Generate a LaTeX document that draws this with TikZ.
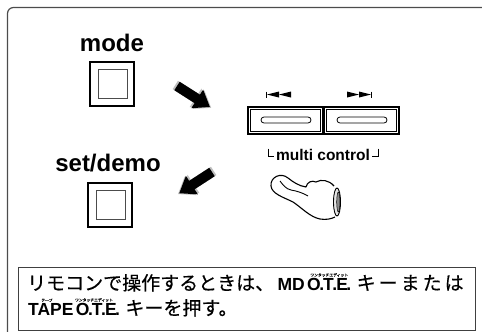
\documentclass[tikz,border=0pt]{standalone}
\usepackage{fontspec}
\setmainfont{Liberation Sans}
\newfontfamily\jpfont{Noto Sans CJK JP}[FakeBold=0.4]
\usetikzlibrary{calc,positioning}
\def\squarekey(#1,#2){\draw[line width=1.8pt] (#1,#2) rectangle ++(44,44);
	\draw[line width=0.7pt, color=black!70] (#1+8,#2+7) rectangle ++(29,29);}
\def\longkey(#1,#2){\draw[line width=1.6pt] (#1,#2) rectangle ++(75,27);
	\draw[line width=0.6pt] (#1+2.5,#2+2.5) rectangle ++(70,22);
	\draw[line width=0.8pt, rounded corners=3pt] (#1+13,#2+10) rectangle ++(50,6);}
\def\blockarrow(#1,#2)(#3){%
	\fill[color=black!25, shift={(#1,#2)}, rotate=#3, xshift=-2pt] (0,-5) -- (24,-5) -- (24,-11) -- (39,0) -- (24,11) -- (24,5) -- (0,5) -- cycle;
	\fill[color=black!25, shift={(#1,#2)}, rotate=#3, xshift=1.5pt] (0,-5) -- (24,-5) -- (24,-11) -- (39,0) -- (24,11) -- (24,5) -- (0,5) -- cycle;
	\fill[shift={(#1,#2)}, rotate=#3] (0,-5) -- (24,-5) -- (24,-11) -- (39,0) -- (24,11) -- (24,5) -- (0,5) -- cycle;}
\tikzset{
	keylbl/.style={font=\bfseries\fontsize{24}{24}\selectfont, inner sep=0pt, anchor=base},
	jptext/.style={font=\jpfont\fontsize{19}{19}\selectfont, inner sep=0pt, anchor=base west},
	latintext/.style={font=\bfseries\fontsize{17.5}{17.5}\selectfont, inner sep=0pt, anchor=base west},
	ruby/.style={font=\jpfont\fontsize{3.8}{3.8}\selectfont, inner sep=0pt}
}

\begin{document}
\begin{tikzpicture}[x=1pt, y=-1pt]
		%%%%% START %%%%%
		\useasboundingbox (0,0) rectangle (482,332);
		
		\draw[line width=1.2pt, color=black!70, rounded corners=6pt] (7.5,345) -- (7.5,7.5) -- (495,7.5);
		
		\node[keylbl] (mode) at (112,51) {mode};
		\squarekey(90,62)
		
		\node[keylbl] (setdemo) at (108,171) {set/demo};
		\squarekey(88,183)
		
		\blockarrow(177,86)(-32.5)
		\blockarrow(212,172)(-147)
		
		\longkey(248,107)
		\longkey(324,107)
		
		\draw[line width=1pt] (266.5,91.5) -- (266.5,97.5);
		\fill (267,94.5) -- (279,91.5) -- (279,97.5) -- cycle;
		\fill (279,94.5) -- (291,91.5) -- (291,97.5) -- cycle;
		\fill (347,91.5) -- (359,94.5) -- (347,97.5) -- cycle;
		\fill (359,91.5) -- (371,94.5) -- (359,97.5) -- cycle;
		\draw[line width=1pt] (371.5,91.5) -- (371.5,97.5);
		
		\node[font=\bfseries\fontsize{15.5}{15.5}\selectfont, inner sep=0pt, anchor=base] (multi) at (323,160.5) {multi control};
		\draw[line width=0.6pt] ($(multi.base west)+(-8,-12)$) |- ($(multi.base west)+(-2,-4)$);
		\draw[line width=0.6pt] ($(multi.base east)+(8,-12)$) |- ($(multi.base east)+(2,-4)$);
		
		% hand
		\draw[line width=1.1pt, fill=white, line join=round]
		(334,186) .. controls (329,180) and (321,179) .. (316,182)
		.. controls (312,180) and (307,182) .. (306,187)
		.. controls (299,186) and (293,182) .. (288,178)
		.. controls (281,172) and (270,177) .. (271,186)
		.. controls (272,194) and (283,197) .. (293,202)
		.. controls (302,208) and (310,217) .. (320,219)
		.. controls (326,220) and (331,219) .. (335,217);
		\draw[line width=0.9pt] (280,181) .. controls (283,185) and (286,189) .. (291,190)
		.. controls (297,191) and (303,193) .. (308,196);
		\draw[line width=0.9pt, fill=black!10] (337,202) ellipse (3.5 and 14);
		\draw[line width=0.5pt, fill=black!45] (338.3,202) ellipse (1.6 and 10);
		
		\draw[line width=1pt, color=black!75] (18,267) rectangle (475,330);
		\node[jptext] (line1) at (27,290) {リモコンで操作するときは、};
		\node[latintext] (md) at ([xshift=3pt]line1.base east) {MD};
		\node[latintext] (ote1) at ([xshift=2pt]md.base east) {O\kern-1.5pt.\kern-1pt T\kern-1.5pt.\kern-1pt E\kern-1.5pt.};
		\node[jptext] (key1) at ([xshift=5pt]ote1.base east) {キ\kern3ptー\kern3ptま\kern3ptた\kern3ptは};
		\node[ruby, above=0.6pt of ote1] (ote1r) {ワンタッチエディット};
		
		\node[latintext] (tape) at (28,315) {TAPE};
		\node[latintext] (ote2) at ([xshift=2pt]tape.base east) {O\kern-1.5pt.\kern-1pt T\kern-1.5pt.\kern-1pt E\kern-1.5pt.};
		\node[jptext] (key2) at ([xshift=5pt]ote2.base east) {キーを押す。};
		\node[ruby, above=0.6pt of tape, xshift=-4pt] (taper) {テープ};
		\node[ruby, above=0.6pt of ote2, xshift=-4pt] (ote2r) {ワンタッチエディット};
		
		%%%%% END %%%%%
	\end{tikzpicture}
\end{document}
